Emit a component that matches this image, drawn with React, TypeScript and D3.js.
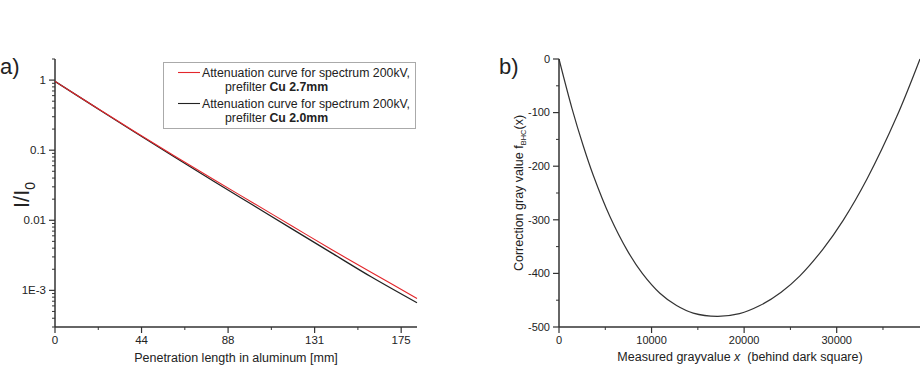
import React from "react";
import * as d3 from "d3";

// panel a) attenuation curves (penetration in mm, I/I0)
const penetration = [0, 20, 40, 60, 80, 100, 120, 140, 160, 183];
const attenuationCu27 = [0.959, 0.421, 0.186, 0.0841, 0.0385, 0.0178, 0.00822, 0.0038, 0.0018, 0.000767];
const attenuationCu20 = [0.959, 0.418, 0.183, 0.0812, 0.0364, 0.0165, 0.00748, 0.0034, 0.00155, 0.000665];
const xTicksA = [0, 43.75, 87.5, 131.25, 175];
const yTicksA = [1, 0.1, 0.01, 0.001];
const yTickLabelsA = ["1", "0.1", "0.01", "1E-3"];

// panel b) correction curve
const grayValue = [0, 1400, 2600, 3700, 5500, 7400, 9000, 10900, 12700, 14500, 17100, 19500, 21700, 24000, 26000, 28500, 30700, 33300, 36500, 39000];
const correction = [0, -92, -161, -217, -294, -358, -400, -437, -460, -474, -480, -475, -460, -435, -405, -355, -301, -223, -107, 0];
const xTicksB = [0, 10000, 20000, 30000];
const yTicksB = [0, -100, -200, -300, -400, -500];

const font = "'Liberation Sans', Arial, sans-serif";
const axisColor = "#333";

const PanelA = () => {
  const x = d3.scaleLinear().domain([0, 183]).range([55, 417]);
  const y = d3.scaleLog().domain([3e-4, 2]).range([327, 59]);
  const line = d3
    .line<number>()
    .x((_, i) => x(penetration[i]))
    .y((d) => y(d))
    .curve(d3.curveCatmullRom);

  const minorX = xTicksA.map((t) => t + 21.875).filter((t) => t <= 183);
  const minorY: number[] = [];
  [1e-4, 1e-3, 1e-2, 1e-1, 1].forEach((dec) => {
    for (let k = 2; k <= 9; k++) {
      const v = dec * k;
      if (v >= 3e-4 && v <= 2) minorY.push(v);
    }
  });

  return (
    <g fontFamily={font}>
      <text x={0} y={74} fontSize={22} fill="#222">a)</text>
      <text transform="translate(29,195) rotate(-90)" textAnchor="middle" fontSize={22} fill="#222">
        I/I<tspan fontSize={14} dy={6}>0</tspan>
      </text>
      {/* axes */}
      <line x1={55} x2={55} y1={59} y2={327} stroke={axisColor} strokeWidth={1.5} />
      <line x1={55} x2={417} y1={327} y2={327} stroke={axisColor} strokeWidth={1.5} />
      {yTicksA.map((t, i) => (
        <g key={t}>
          <line x1={49} x2={55} y1={y(t)} y2={y(t)} stroke={axisColor} strokeWidth={1.2} />
          <text x={46} y={y(t)} dy="0.35em" textAnchor="end" fontSize={11.5} fill="#222">
            {yTickLabelsA[i]}
          </text>
        </g>
      ))}
      {minorY.map((t) => (
        <line key={t} x1={52} x2={55} y1={y(t)} y2={y(t)} stroke={axisColor} strokeWidth={1} />
      ))}
      {xTicksA.map((t) => (
        <g key={t}>
          <line x1={x(t)} x2={x(t)} y1={327} y2={333} stroke={axisColor} strokeWidth={1.2} />
          <text x={x(t)} y={344} textAnchor="middle" fontSize={11.5} fill="#222">
            {Math.round(t)}
          </text>
        </g>
      ))}
      {minorX.map((t) => (
        <line key={t} x1={x(t)} x2={x(t)} y1={327} y2={330} stroke={axisColor} strokeWidth={1} />
      ))}
      <text x={236} y={362} textAnchor="middle" fontSize={12.5} fill="#222">
        Penetration length in aluminum [mm]
      </text>
      {/* curves */}
      <path d={line(attenuationCu20) || ""} fill="none" stroke="#222" strokeWidth={1.3} />
      <path d={line(attenuationCu27) || ""} fill="none" stroke="#e3262b" strokeWidth={1.1} />
      {/* legend */}
      <rect x={163.5} y={62.5} width={252} height={66} fill="#fff" stroke="#aaa" strokeWidth={1} />
      <line x1={178} x2={200} y1={72.5} y2={72.5} stroke="#e3262b" strokeWidth={1.1} />
      <text x={202} y={77} fontSize={12.3} fill="#222">Attenuation curve for spectrum 200kV,</text>
      <text x={225} y={91} fontSize={12.3} fill="#222">
        prefilter <tspan fontWeight="bold">Cu 2.7mm</tspan>
      </text>
      <line x1={178} x2={200} y1={103.5} y2={103.5} stroke="#222" strokeWidth={1.1} />
      <text x={202} y={108} fontSize={12.3} fill="#222">Attenuation curve for spectrum 200kV,</text>
      <text x={225} y={122} fontSize={12.3} fill="#222">
        prefilter <tspan fontWeight="bold">Cu 2.0mm</tspan>
      </text>
    </g>
  );
};

const PanelB = () => {
  const x = d3.scaleLinear().domain([0, 39000]).range([559, 920]);
  const y = d3.scaleLinear().domain([-500, 0]).range([327, 59]);
  const line = d3
    .line<number>()
    .x((_, i) => x(grayValue[i]))
    .y((d) => y(d))
    .curve(d3.curveCatmullRom);
  const minorX = [5000, 15000, 25000, 35000];
  const minorY = [-50, -150, -250, -350, -450];

  return (
    <g fontFamily={font}>
      <text x={499} y={74} fontSize={22} fill="#222">b)</text>
      <text transform="translate(523,193) rotate(-90)" textAnchor="middle" fontSize={12.5} fill="#222">
        Correction gray value f<tspan fontSize={7.5} dy={3}>BHC</tspan>
        <tspan dy={-3}>(x)</tspan>
      </text>
      <line x1={559} x2={559} y1={59} y2={327} stroke={axisColor} strokeWidth={1.5} />
      <line x1={559} x2={920} y1={327} y2={327} stroke={axisColor} strokeWidth={1.5} />
      {yTicksB.map((t) => (
        <g key={t}>
          <line x1={553} x2={559} y1={y(t)} y2={y(t)} stroke={axisColor} strokeWidth={1.2} />
          <text x={550} y={y(t)} dy="0.35em" textAnchor="end" fontSize={11} fill="#222">
            {t}
          </text>
        </g>
      ))}
      {minorY.map((t) => (
        <line key={t} x1={556} x2={559} y1={y(t)} y2={y(t)} stroke={axisColor} strokeWidth={1} />
      ))}
      {xTicksB.map((t) => (
        <g key={t}>
          <line x1={x(t)} x2={x(t)} y1={327} y2={333} stroke={axisColor} strokeWidth={1.2} />
          <text x={x(t)} y={344} textAnchor="middle" fontSize={11} fill="#222">
            {t}
          </text>
        </g>
      ))}
      {minorX.map((t) => (
        <line key={t} x1={x(t)} x2={x(t)} y1={327} y2={330} stroke={axisColor} strokeWidth={1} />
      ))}
      <text x={740} y={361} textAnchor="middle" fontSize={12.5} fill="#222">
        Measured grayvalue <tspan fontStyle="italic">x</tspan>{"\u00a0 (behind dark square)"}
      </text>
      <path d={line(correction) || ""} fill="none" stroke="#333" strokeWidth={1.2} />
    </g>
  );
};

const App = () => (
  <svg
    width={920}
    height={368}
    style={{ position: "fixed", left: 0, top: 0, background: "#fff" }}
  >
    <rect width={920} height={368} fill="#fff" />
    <PanelA />
    <PanelB />
  </svg>
);

export default App;
